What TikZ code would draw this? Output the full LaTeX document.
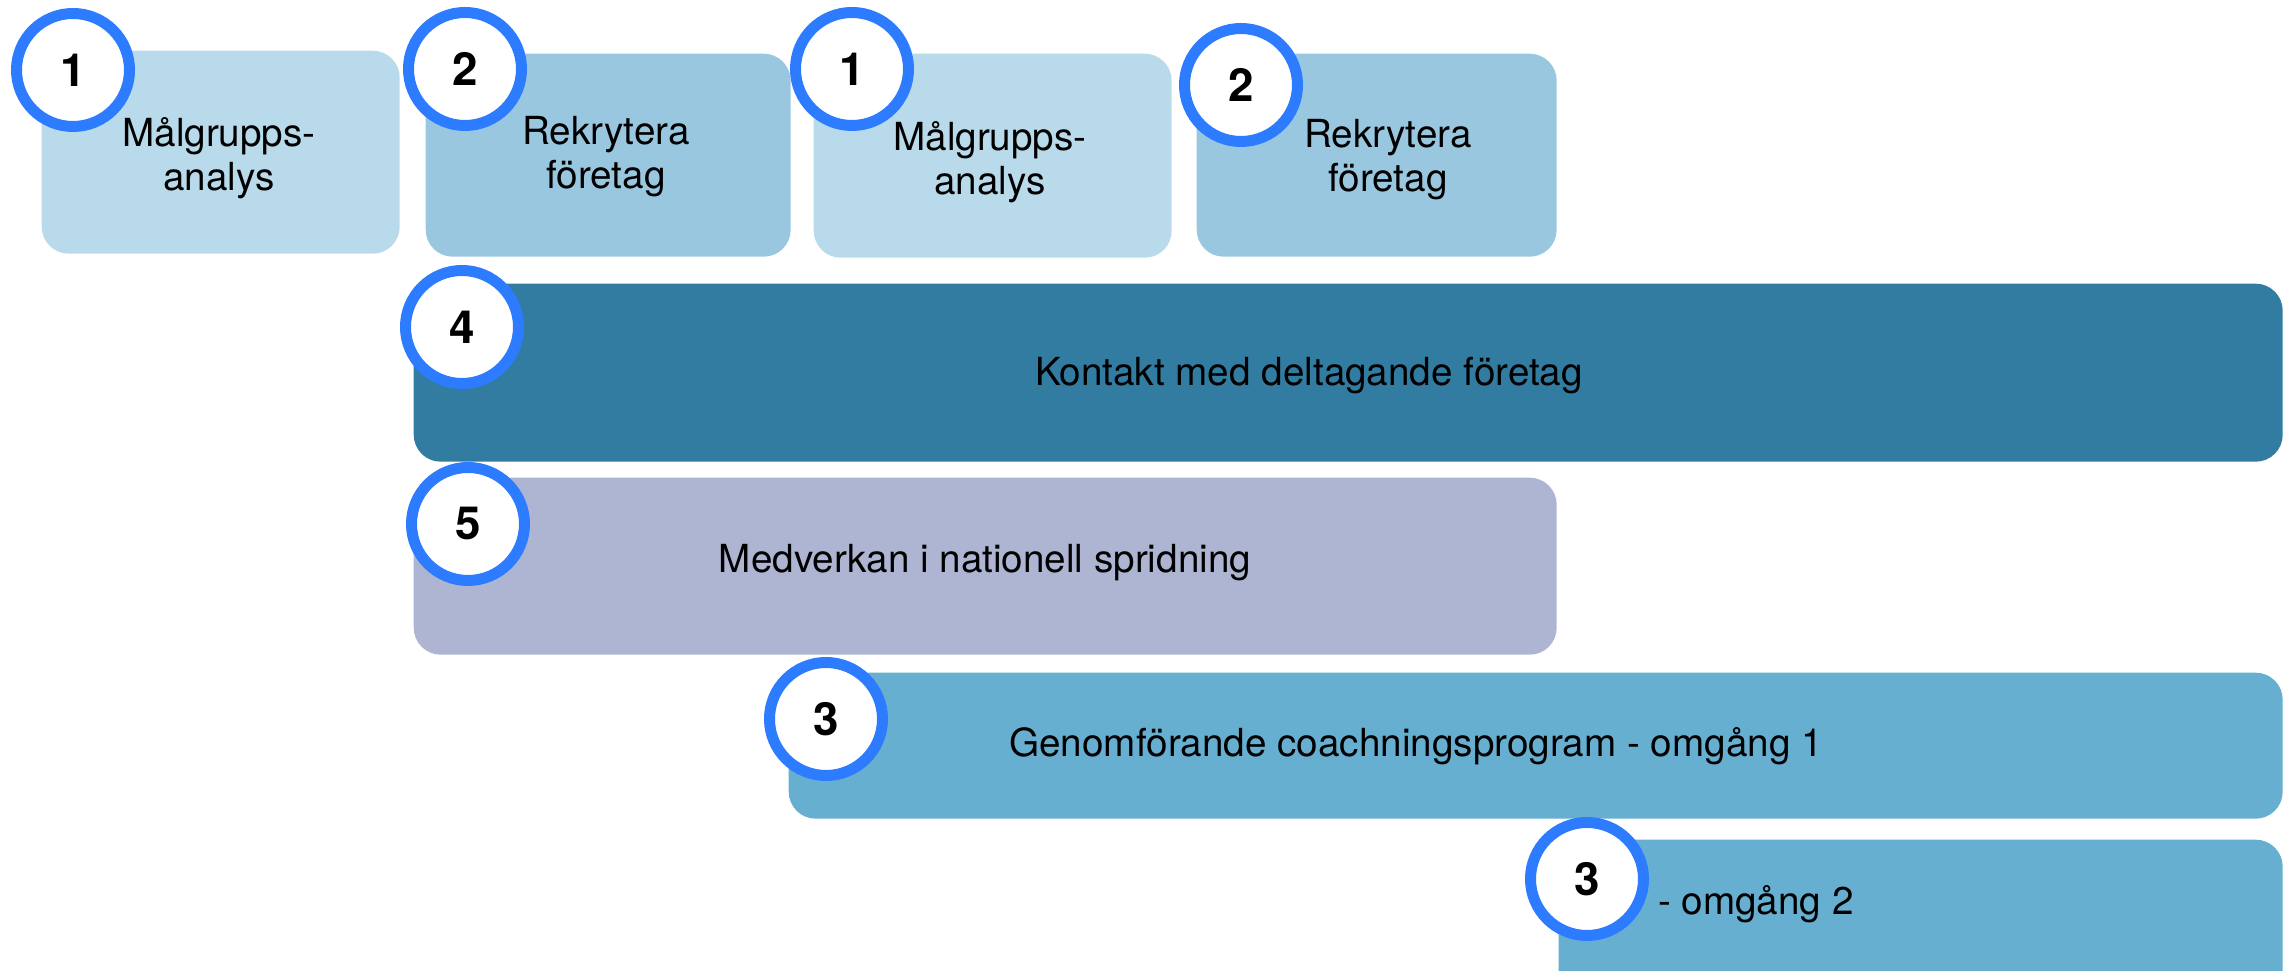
\documentclass[tikz,border=0pt]{standalone}
\usepackage{fontspec}
\setmainfont{TeX Gyre Heros}
\definecolor{lightbox}{HTML}{B8DAEA}
\definecolor{midbox}{HTML}{99C7DF}
\definecolor{darkbox}{HTML}{327CA1}
\definecolor{greybox}{HTML}{AEB5D2}
\definecolor{runbox}{HTML}{67AFD1}
\definecolor{ringblue}{HTML}{2D7BFF}
\tikzset{
	box/.style={rectangle, rounded corners=2.7mm, inner sep=0pt, anchor=north west},
	num/.style={circle, draw=ringblue, line width=1.1mm, fill=white, minimum size=11.3mm, inner sep=0pt, font=\fontsize{13}{13}\selectfont\bfseries},
	txt/.style={align=center, inner sep=0pt, font=\fontsize{11}{12.5}\selectfont}
}
\begin{document}
\begin{tikzpicture}
			\clip (0,0) rectangle (22.85,-9.71);
			
			\node[box, fill=lightbox, minimum width=3.58cm, minimum height=2.03cm] (malA) at (0.41,-0.50) {};
			\node[box, fill=midbox, minimum width=3.65cm, minimum height=2.03cm] (rekA) at (4.25,-0.53) {};
			\node[box, fill=lightbox, minimum width=3.58cm, minimum height=2.04cm] (malB) at (8.13,-0.53) {};
			\node[box, fill=midbox, minimum width=3.60cm, minimum height=2.03cm] (rekB) at (11.96,-0.53) {};
			
			\node[box, fill=darkbox, minimum width=18.69cm, minimum height=1.78cm] (kontakt) at (4.13,-2.83) {};
			\node[box, fill=greybox, minimum width=11.43cm, minimum height=1.77cm] (sprid) at (4.13,-4.77) {};
			\node[box, fill=runbox, minimum width=14.94cm, minimum height=1.46cm] (omg1) at (7.88,-6.72) {};
			\node[box, fill=runbox, minimum width=7.24cm, minimum height=1.60cm] (omg2) at (15.58,-8.39) {};
			
			\node[txt] (malAtext) at (2.19,-1.58) {Målgrupps-\\analys};
			\node[txt] (rekAtext) at (6.06,-1.57) {Rekrytera\\företag};
			\node[txt] (malBtext) at (9.90,-1.62) {Målgrupps-\\analys};
			\node[txt] (rekBtext) at (13.88,-1.60) {Rekrytera\\företag};
			\node[txt, anchor=base] (kontakttext) at (13.09,-3.86) {Kontakt med deltagande företag};
			\node[txt, anchor=base] (spridtext) at (9.85,-5.73) {Medverkan i nationell spridning};
			\node[txt, anchor=base] (omg1text) at (14.16,-7.57) {Genomförande coachningsprogram - omgång 1};
			\node[txt, anchor=base] (omg2text) at (17.56,-9.15) {- omgång 2};
			
			\node[num] (n1a) at (0.73,-0.70) {1};
			\node[num] (n2a) at (4.65,-0.69) {2};
			\node[num] (n1b) at (8.52,-0.69) {1};
			\node[num] (n2b) at (12.41,-0.85) {2};
			\node[num] (n4) at (4.62,-3.27) {4};
			\node[num] (n5) at (4.68,-5.24) {5};
			\node[num] (n3a) at (8.26,-7.19) {3};
			\node[num] (n3b) at (15.87,-8.79) {3};
		\end{tikzpicture}
\end{document}
